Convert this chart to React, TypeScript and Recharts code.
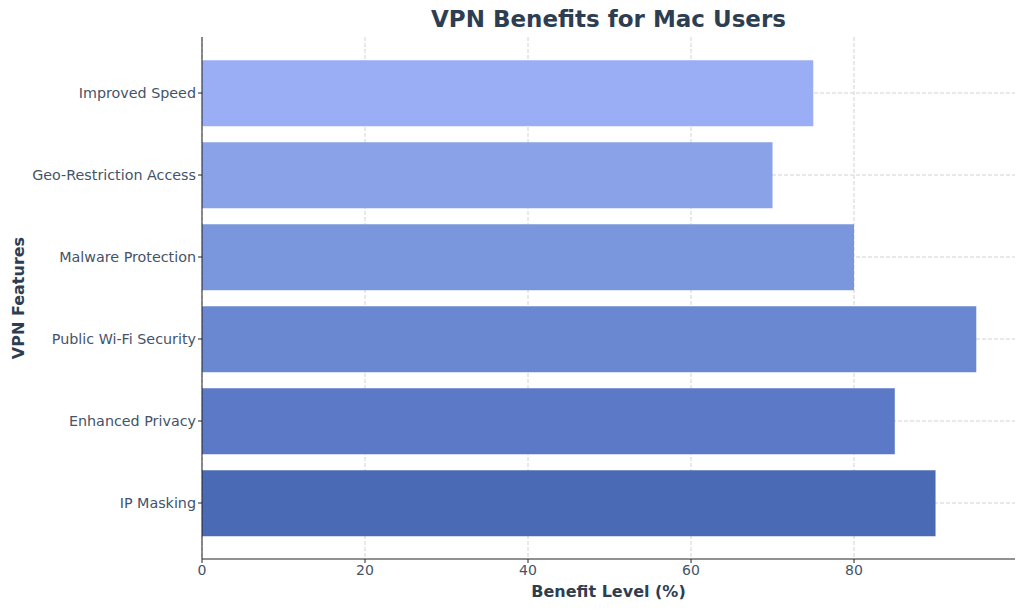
import React from 'react';
import { BarChart, Bar, XAxis, YAxis, CartesianGrid, Cell } from 'recharts';

const features = [
  'Improved Speed',
  'Geo-Restriction Access',
  'Malware Protection',
  'Public Wi-Fi Security',
  'Enhanced Privacy',
  'IP Masking',
];
const benefitLevels = [75, 70, 80, 95, 85, 90];
const barColors = ['#99aef4', '#8aa3e8', '#7a96dd', '#6a88d1', '#5b79c6', '#4b6ab6'];
const xTicks = [0, 20, 40, 60, 80];

const data = features.map((feature, i) => ({ feature, level: benefitLevels[i] }));

const textColor = '#44536a';
const font = '"DejaVu Sans", sans-serif';

const App: React.FC = () => {
  return (
    <div style={{ position: 'absolute', left: 0, top: 0, width: 1024, height: 611, fontFamily: font }}>
      <div
        style={{
          position: 'absolute',
          left: 202,
          width: 813,
          top: 6,
          textAlign: 'center',
          fontSize: 23,
          fontWeight: 'bold',
          color: '#2e3e52',
        }}
      >
        VPN Benefits for Mac Users
      </div>
      <BarChart
        width={1024}
        height={611}
        data={data}
        layout="vertical"
        margin={{ top: 37, right: 9, bottom: 0, left: 0 }}
        barCategoryGap="10%"
      >
        <CartesianGrid stroke="#d2d2d2" strokeDasharray="4 2" syncWithTicks />
        <XAxis
          type="number"
          domain={[0, 99.75]}
          ticks={xTicks}
          height={52}
          axisLine={{ stroke: '#222' }}
          tickLine={{ stroke: '#222' }}
          tickSize={4}
          tick={{ fill: textColor, fontSize: 14, fontFamily: font }}
          label={{
            value: 'Benefit Level (%)',
            position: 'insideBottom',
            offset: 14,
            fill: '#2e3e52',
            fontSize: 16,
            fontWeight: 'bold',
            fontFamily: font,
          }}
        />
        <YAxis
          type="category"
          dataKey="feature"
          width={202}
          padding={{ top: 15, bottom: 15 }}
          axisLine={{ stroke: '#222' }}
          tickLine={{ stroke: '#222' }}
          tickSize={4}
          tick={{ fill: textColor, fontSize: 14.3, fontFamily: font }}
          label={{
            value: 'VPN Features',
            angle: -90,
            position: 'insideLeft',
            offset: 18,
            fill: '#2e3e52',
            fontSize: 16,
            fontWeight: 'bold',
            fontFamily: font,
            style: { textAnchor: 'middle' },
          }}
        />
        <Bar dataKey="level" isAnimationActive={false}>
          {data.map((d, i) => (
            <Cell key={d.feature} fill={barColors[i]} />
          ))}
        </Bar>
      </BarChart>
    </div>
  );
};

export default App;
